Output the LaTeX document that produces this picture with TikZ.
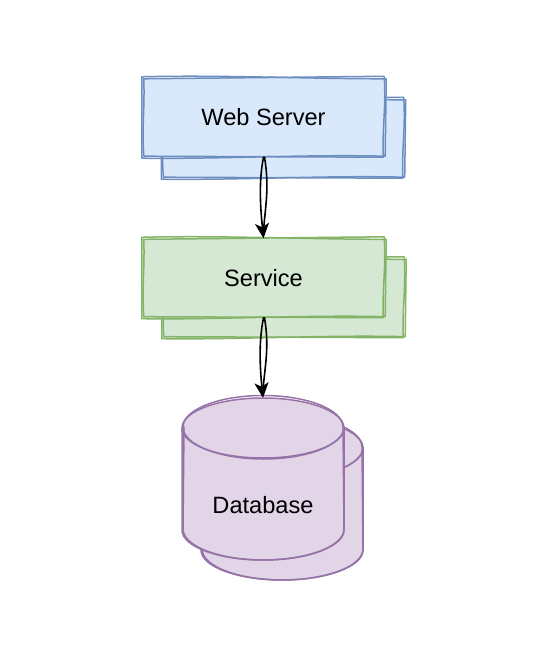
\documentclass[tikz,border=0pt]{standalone}
\usepackage{fontspec}
\setmainfont{Liberation Sans}
\usetikzlibrary{calc,arrows.meta}

\definecolor{wsfill}{HTML}{DAE8FC}
\definecolor{wsline}{HTML}{6C8EBF}
\definecolor{svfill}{HTML}{D5E8D4}
\definecolor{svline}{HTML}{82B366}
\definecolor{dbfill}{HTML}{E1D5E7}
\definecolor{dbline}{HTML}{9673A6}

\tikzset{
  panel/.style={minimum width=241pt, minimum height=79pt, inner sep=0pt,
                font=\fontsize{23.6}{28}\selectfont},
  sketch/.style={line width=1.5pt, line join=round, line cap=round},
  link/.style={line width=1.6pt, line cap=round, black},
  tip/.style={-{Stealth[length=15pt,width=14pt,inset=4pt]}},
  label/.style={font=\fontsize{23.6}{28}\selectfont, inner sep=0pt},
}

% hand-drawn outline: two slightly jittered strokes around a node
\newcommand\roughbox[2]{%
  \draw[sketch,#2] ($(#1.north west)+(-1,1)$) .. controls +(80,2) and +(-80,0) .. ($(#1.north east)+(2,-1)$)
        -- ($(#1.south east)+(1,1)$) .. controls +(-80,2) and +(80,-1) .. ($(#1.south west)+(-1,-1)$) -- cycle;
  \draw[sketch,#2] ($(#1.north west)+(1,-1)$) -- ($(#1.north east)+(0,1.5)$)
        .. controls +(2,-30) and +(-1,30) .. ($(#1.south east)+(-1,0)$) -- ($(#1.south west)+(1,1)$)
        .. controls +(-2,30) and +(1,-30) .. cycle;
}

% cylinder of radius 81 x 30, body between +-51, around the current origin
\newcommand\roughcyl[2]{%
  \fill[#1] (-81,51) -- (-81,-51) arc (180:360:81 and 30) -- (81,51)
        arc (0:180:81 and 30) -- cycle;
  \draw[sketch,#2] (-81,51) -- (-81,-51) arc (180:360:81 and 30) -- (81,51)
        arc (0:180:81 and 30) -- cycle;
  \draw[sketch,#2] (-81,51) arc (180:360:81 and 30);
  \draw[sketch,#2] (-79,52) -- (-80,-50) arc (180:360:80.5 and 31) -- (80,52)
        arc (0:180:80 and 31.5) -- cycle;
  \draw[sketch,#2] (-80,52) arc (180:360:80.5 and 32);
}

\begin{document}
\begin{tikzpicture}[x=1pt,y=1pt]
\useasboundingbox (0,0) rectangle (554,-652);

% Web Server
\node[panel, fill=wsfill] (wsback) at (283,-138.5) {};
\roughbox{wsback}{wsline}
\node[panel, fill=wsfill] (ws) at (263.5,-117.5) {Web Server};
\roughbox{ws}{wsline}

% Service
\node[panel, fill=svfill] (svback) at (283.5,-298) {};
\roughbox{svback}{svline}
\node[panel, fill=svfill] (svc) at (263.5,-278) {Service};
\roughbox{svc}{svline}

% Database
\node[minimum width=162pt, minimum height=162pt, inner sep=0pt] (db) at (263,-479) {};
\begin{scope}[shift={($(db.center)+(19,-20)$)}]
  \roughcyl{dbfill}{dbline}
\end{scope}
\begin{scope}[shift={(db.center)}]
  \roughcyl{dbfill}{dbline}
\end{scope}
\node[label] (dblabel) at (263,-505) {Database};

% connectors
\draw[link,tip] (ws.south) .. controls +(-5,-25) and +(-3,30) .. (svc.north);
\draw[link] ($(ws.south)+(1,0)$) .. controls +(5,-30) and +(2,25) .. ($(svc.north)+(0,8)$);
\draw[link,tip] (svc.south) .. controls +(-5,-25) and +(-3,30) .. (db.north);
\draw[link] ($(svc.south)+(1,0)$) .. controls +(5,-30) and +(2,25) .. ($(db.north)+(0,8)$);
\end{tikzpicture}
\end{document}
